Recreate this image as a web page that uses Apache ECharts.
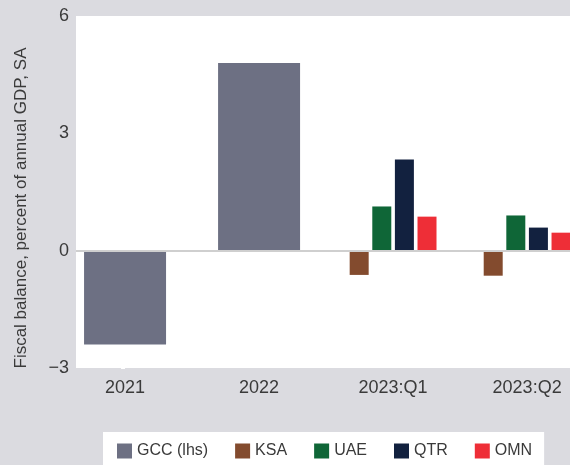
<!DOCTYPE html>
<html>
<head>
<meta charset="utf-8">
<script src="https://cdn.jsdelivr.net/npm/echarts@6/dist/echarts.min.js"></script>
<style>
html, body { margin: 0; padding: 0; background: #dbdbe0; }
#chartDiv { width: 570px; height: 465px; }
</style>
</head>
<body>
<div id="chartDiv"></div>
<script>
// data
var categories = ['2021', '2022', '2023:Q1', '2023:Q2'];
var gccValues = [-2.4, 4.8, null, null];
var ksaValues = [null, null, -0.62, -0.64];
var uaeValues = [null, null, 1.13, 0.9];
var qtrValues = [null, null, 2.33, 0.59];
var omnValues = [null, null, 0.87, 0.46];
var yTicks = [-3, 0, 3, 6];

var fontName = '"Liberation Sans", Arial, sans-serif';
var textColor = '#3a3a3a';

// value pairs [category index, value], skipping empty slots
function toPairs(values) {
    var out = [];
    for (var i = 0; i < values.length; i++) {
        if (values[i] !== null) out.push([i, values[i]]);
    }
    return out;
}

var catIndex = categories.map(function (c, i) { return i; });
var xMin = -0.366;
var xMax = 3.32;

var chart = echarts.init(document.getElementById('chartDiv'));

function countryBar(name, values, color) {
    return {
        name: name,
        type: 'bar',
        xAxisIndex: 1,
        data: toPairs(values),
        barWidth: 19,
        barGap: '19%',
        itemStyle: { color: color }
    };
}

var option = {
    animation: false,
    backgroundColor: '#dbdbe0',
    textStyle: { fontFamily: fontName },
    grid: {
        left: 76, right: 0, top: 16, bottom: 97,
        outerBoundsMode: 'none',
        containLabel: false,
        show: true,
        backgroundColor: '#ffffff',
        borderWidth: 0
    },
    legend: {
        left: 103,
        top: 432,
        padding: [11, 12, 20, 14],
        backgroundColor: '#ffffff',
        icon: 'rect',
        itemWidth: 15,
        itemHeight: 15,
        itemGap: 27,
        textStyle: { fontSize: 16, color: textColor, fontFamily: fontName },
        data: ['GCC (lhs)', 'KSA', 'UAE', 'QTR', 'OMN']
    },
    xAxis: [
        {
            type: 'value',
            min: xMin,
            max: xMax,
            axisLine: { show: false },
            splitLine: { show: false },
            axisTick: {
                show: true,
                customValues: catIndex,
                length: 4,
                lineStyle: { color: '#ffffff', width: 1 }
            },
            axisLabel: {
                customValues: catIndex,
                margin: 11,
                fontSize: 18,
                color: textColor,
                fontFamily: fontName,
                formatter: function (v) { return categories[Math.round(v)]; }
            }
        },
        {
            type: 'value',
            min: xMin,
            max: xMax,
            show: false
        }
    ],
    yAxis: {
        type: 'value',
        min: yTicks[0],
        max: yTicks[yTicks.length - 1],
        interval: 3,
        name: 'Fiscal balance, percent of annual GDP, SA',
        nameLocation: 'middle',
        nameGap: 46,
        nameTextStyle: {
            fontSize: 17,
            color: textColor,
            fontFamily: fontName,
            padding: [0, 32, 0, 0]
        },
        axisLine: { show: false },
        splitLine: { show: false },
        axisTick: { show: true, length: 4, lineStyle: { color: '#ffffff' } },
        axisLabel: {
            margin: 7,
            fontSize: 18,
            color: textColor,
            fontFamily: fontName,
            formatter: function (v) { return v < 0 ? '\u2212' + Math.abs(v) : String(v); }
        }
    },
    series: [
        {
            name: 'GCC (lhs)',
            type: 'bar',
            xAxisIndex: 0,
            data: toPairs(gccValues),
            barWidth: 82,
            itemStyle: { color: '#6d7083' },
            markLine: {
                silent: true,
                symbol: 'none',
                label: { show: false },
                lineStyle: { color: '#cfcfcf', width: 2, type: 'solid' },
                data: [{ yAxis: 0 }]
            }
        },
        countryBar('KSA', ksaValues, '#834b2e'),
        countryBar('UAE', uaeValues, '#0f6637'),
        countryBar('QTR', qtrValues, '#12213f'),
        countryBar('OMN', omnValues, '#ee2e37')
    ]
};

chart.setOption(option);
</script>
</body>
</html>
